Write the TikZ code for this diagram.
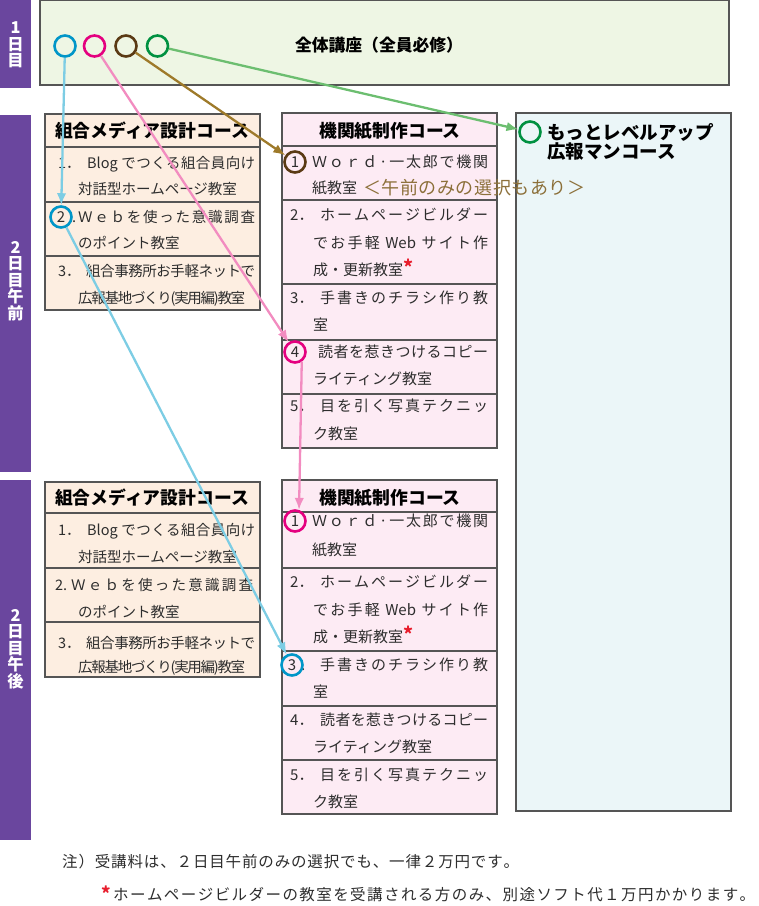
\documentclass[tikz,border=0pt]{standalone}
\usepackage{fontspec}
\setmainfont{Noto Sans CJK JP}
\usetikzlibrary{arrows.meta}
\ExplSyntaxOn
\cs_new_protected:Npn \spreadchars #1
  { \tl_map_inline:nn {#1} { ##1 \hskip 0pt plus 1fil minus 1fil } }
\ExplSyntaxOff
\newcommand\jfit[2]{\hbox to #1{\spreadchars{#2}\unskip}}
\definecolor{purp}{RGB}{106,70,158}
\definecolor{gfill}{RGB}{238,246,228}
\definecolor{pfill}{RGB}{253,238,225}
\definecolor{kfill}{RGB}{253,235,244}
\definecolor{cfill}{RGB}{235,246,248}
\definecolor{bord}{RGB}{85,85,85}
\definecolor{txt}{RGB}{45,45,45}
\definecolor{cyC}{RGB}{0,150,200}
\definecolor{mgC}{RGB}{228,0,127}
\definecolor{brC}{RGB}{90,58,20}
\definecolor{grC}{RGB}{0,145,65}
\definecolor{cyL}{RGB}{125,205,228}
\definecolor{mgL}{RGB}{242,140,192}
\definecolor{brL}{RGB}{158,122,42}
\definecolor{grL}{RGB}{108,190,112}
\definecolor{brT}{RGB}{140,112,58}
\definecolor{astR}{RGB}{232,30,45}
\newcommand\redast{\raisebox{1pt}{\fontsize{19}{19}\selectfont\bfseries\textcolor{astR}{*}}}
\tikzset{
 lnL/.style={anchor=west, inner sep=0pt, text height=12.8pt, text depth=1.7pt, text=txt, font=\fontsize{14.5}{16}\selectfont},
 lnM/.style={anchor=west, inner sep=0pt, text height=13.2pt, text depth=1.8pt, text=txt, font=\fontsize{15}{16}\selectfont},
 lnT/.style={anchor=west, inner sep=0pt, text height=15.8pt, text depth=2.2pt, text=brT, font=\fontsize{18}{19}\selectfont},
 lnN/.style={anchor=west, inner sep=0pt, text height=13.6pt, text depth=1.9pt, text=txt, font=\fontsize{15.5}{17}\selectfont},
 hdr/.style={inner sep=0pt, text=black, font=\bfseries\fontsize{17.8}{19}\selectfont, text height=15.7pt, text depth=2.1pt},
 hdrR/.style={anchor=west, inner sep=0pt, text=black, font=\bfseries\fontsize{18.5}{19}\selectfont, text height=16.3pt, text depth=2.2pt},
 circ/.style={circle, line width=2.6pt, minimum size=21pt, inner sep=0pt, text=txt, font=\fontsize{15}{16}\selectfont},
 arr/.style={line width=2.3pt, -{Latex[length=12pt,width=9.5pt]}},
 bartxt/.style={align=center, inner sep=0pt, text=white, font=\bfseries\fontsize{16.3}{16.6}\selectfont},
 boxline/.style={draw=bord, line width=1.2pt},
}
\begin{document}
\begin{tikzpicture}[x=1pt,y=-1pt]
\useasboundingbox (0,0) rectangle (759,906);
% day bars
\fill[purp] (0,0) rectangle (31,88);
\fill[purp] (0,115) rectangle (31,472);
\fill[purp] (0,480) rectangle (31,840);
\node[bartxt] (bar1) at (15.5,45) {1\\日\\目};
\node[bartxt] (bar2) at (15.5,281) {2\\日\\目\\午\\前};
\node[bartxt] (bar3) at (15.5,649) {2\\日\\目\\午\\後};
% top box
\filldraw[fill=gfill, boxline] (40,0.6) rectangle (729,85);
\node[inner sep=0pt, text=black, font=\bfseries\fontsize{16.8}{18}\selectfont] (title) at (379,45) {全体講座（全員必修）};
% boxes
\filldraw[fill=pfill, boxline] (45,114) rectangle (260,310);
\draw[boxline] (45,147) -- (260,147) (45,202) -- (260,202) (45,256) -- (260,256);
\filldraw[fill=kfill, boxline] (282,113) rectangle (497,448);
\draw[boxline] (282,146) -- (497,146) (282,200) -- (497,200) (282,284) -- (497,284) (282,340) -- (497,340) (282,394) -- (497,394);
\filldraw[fill=cfill, boxline] (516,113) rectangle (731,811);
\filldraw[fill=pfill, boxline] (45,482) rectangle (260,677);
\draw[boxline] (45,513) -- (260,513) (45,568) -- (260,568) (45,622) -- (260,622);
\filldraw[fill=kfill, boxline] (282,480) rectangle (497,814);
\draw[boxline] (282,512) -- (497,512) (282,568) -- (497,568) (282,651) -- (497,651) (282,706) -- (497,706) (282,760) -- (497,760);
% headers
\node[hdr] (hAL) at (152,131) {組合メディア設計コース};
\node[hdr] (hAM) at (390,131) {機関紙制作コース};
\node[hdr] (hPL) at (152,498) {組合メディア設計コース};
\node[hdr] (hPM) at (390,498) {機関紙制作コース};
\node[hdrR] (hR1) at (547,132) {もっとレベルアップ};
\node[hdrR] (hR2) at (547,151) {広報マンコース};
% left AM
\node[lnL] (aL1a) at (58,163) {\makebox[29pt][l]{1．}\jfit{168pt}{{Blog\ }でつくる組合員向け}};
\node[lnL] (aL1b) at (78,189) {対話型ホームページ教室};
\node[lnL] (aL2a) at (72,217) {\makebox[6pt][l]{.}\jfit{177pt}{Ｗｅｂを使った意識調査}};
\node[lnL] (aL2b) at (78,243) {のポイント教室};
\node[lnL] (aL3a) at (58,271) {\makebox[28pt][l]{3．}\jfit{169pt}{組合事務所お手軽ネットで}};
\node[lnL] (aL3b) at (78,298) {\jfit{167pt}{広報基地づくり(実用編)教室}};
% middle AM
\node[lnM] (aM1a) at (312,162) {\jfit{176pt}{Ｗｏｒｄ·一太郎で機関}};
\node[lnM] (aM1b) at (312,188) {紙教室};
\node[lnT] (aM1c) at (363,188) {\jfit{222pt}{＜午前のみの選択もあり＞}};
\node[lnM] (aM2a) at (290,215) {\makebox[30pt][l]{2．}\jfit{168pt}{ホームページビルダー}};
\node[lnM] (aM2b) at (313,243) {\jfit{175pt}{でお手軽{\ Web\ }サイト作}};
\node[lnM] (aM2c) at (313,270) {成・更新教室\redast};
\node[lnM] (aM3a) at (290,298) {\makebox[30pt][l]{3．}\jfit{168pt}{手書きのチラシ作り教}};
\node[lnM] (aM3b) at (313,325) {室};
\node[lnM] (aM4a) at (318,352) {\jfit{170pt}{読者を惹きつけるコピー}};
\node[lnM] (aM4b) at (313,379) {ライティング教室};
\node[lnM] (aM5a) at (290,406) {\makebox[30pt][l]{5．}\jfit{168pt}{目を引く写真テクニッ}};
\node[lnM] (aM5b) at (313,434) {ク教室};
% left PM
\node[lnL] (pL1a) at (58,530) {\makebox[29pt][l]{1．}\jfit{168pt}{{Blog\ }でつくる組合員向け}};
\node[lnL] (pL1b) at (78,557) {対話型ホームページ教室};
\node[lnL] (pL2a) at (55,585) {\makebox[16pt][l]{2.}\jfit{182pt}{Ｗｅｂを使った意識調査}};
\node[lnL] (pL2b) at (78,612) {のポイント教室};
\node[lnL] (pL3a) at (58,643) {\makebox[28pt][l]{3．}\jfit{169pt}{組合事務所お手軽ネットで}};
\node[lnL] (pL3b) at (78,667) {\jfit{167pt}{広報基地づくり(実用編)教室}};
% middle PM
\node[lnM] (pM1a) at (312,521) {\jfit{176pt}{Ｗｏｒｄ·一太郎で機関}};
\node[lnM] (pM1b) at (312,550) {紙教室};
\node[lnM] (pM2a) at (290,582) {\makebox[30pt][l]{2．}\jfit{168pt}{ホームページビルダー}};
\node[lnM] (pM2b) at (313,610) {\jfit{175pt}{でお手軽{\ Web\ }サイト作}};
\node[lnM] (pM2c) at (313,637) {成・更新教室\redast};
\node[lnM] (pM3a) at (301,665) {\makebox[19pt][l]{.}\jfit{168pt}{手書きのチラシ作り教}};
\node[lnM] (pM3b) at (313,692) {室};
\node[lnM] (pM4a) at (290,720) {\makebox[30pt][l]{4．}\jfit{168pt}{読者を惹きつけるコピー}};
\node[lnM] (pM4b) at (313,747) {ライティング教室};
\node[lnM] (pM5a) at (290,775) {\makebox[30pt][l]{5．}\jfit{168pt}{目を引く写真テクニッ}};
\node[lnM] (pM5b) at (313,802) {ク教室};
% notes
\node[lnN] (note1) at (62,862) {\jfit{457pt}{注）受講料は、２日目午前のみの選択でも、一律２万円です。}};
\node[lnN] (note2) at (101,895) {\makebox[12pt][l]{\fontsize{18}{18}\selectfont\bfseries\textcolor{astR}{*}}\jfit{642pt}{ホームページビルダーの教室を受講される方のみ、別途ソフト代１万円かかります。}};
% circles
\node[circ, draw=cyC] (cT1) at (65,46) {};
\node[circ, draw=mgC] (cT2) at (94.5,46) {};
\node[circ, draw=brC] (cT3) at (126,46) {};
\node[circ, draw=grC] (cT4) at (157.5,46) {};
\node[circ, draw=cyC] (cA2) at (61,217) {2};
\node[circ, draw=brC] (cM1) at (295,162) {1};
\node[circ, draw=mgC] (cM4) at (295,352) {4};
\node[circ, draw=mgC] (cP1) at (295,521) {1};
\node[circ, draw=cyC] (cP3) at (292,665) {3};
\node[circ, draw=grC] (cR) at (530,132) {};
% arrows
\draw[arr, cyL] (cT1) -- (cA2);
\draw[arr, cyL] (cA2) -- (cP3);
\draw[arr, mgL] (cT2) -- (cM4);
\draw[arr, mgL] (cM4.-55) -- (cP1.70);
\draw[arr, brL] (cT3) -- (cM1);
\draw[arr, grL] (cT4) -- (cR);
\end{tikzpicture}
\end{document}
